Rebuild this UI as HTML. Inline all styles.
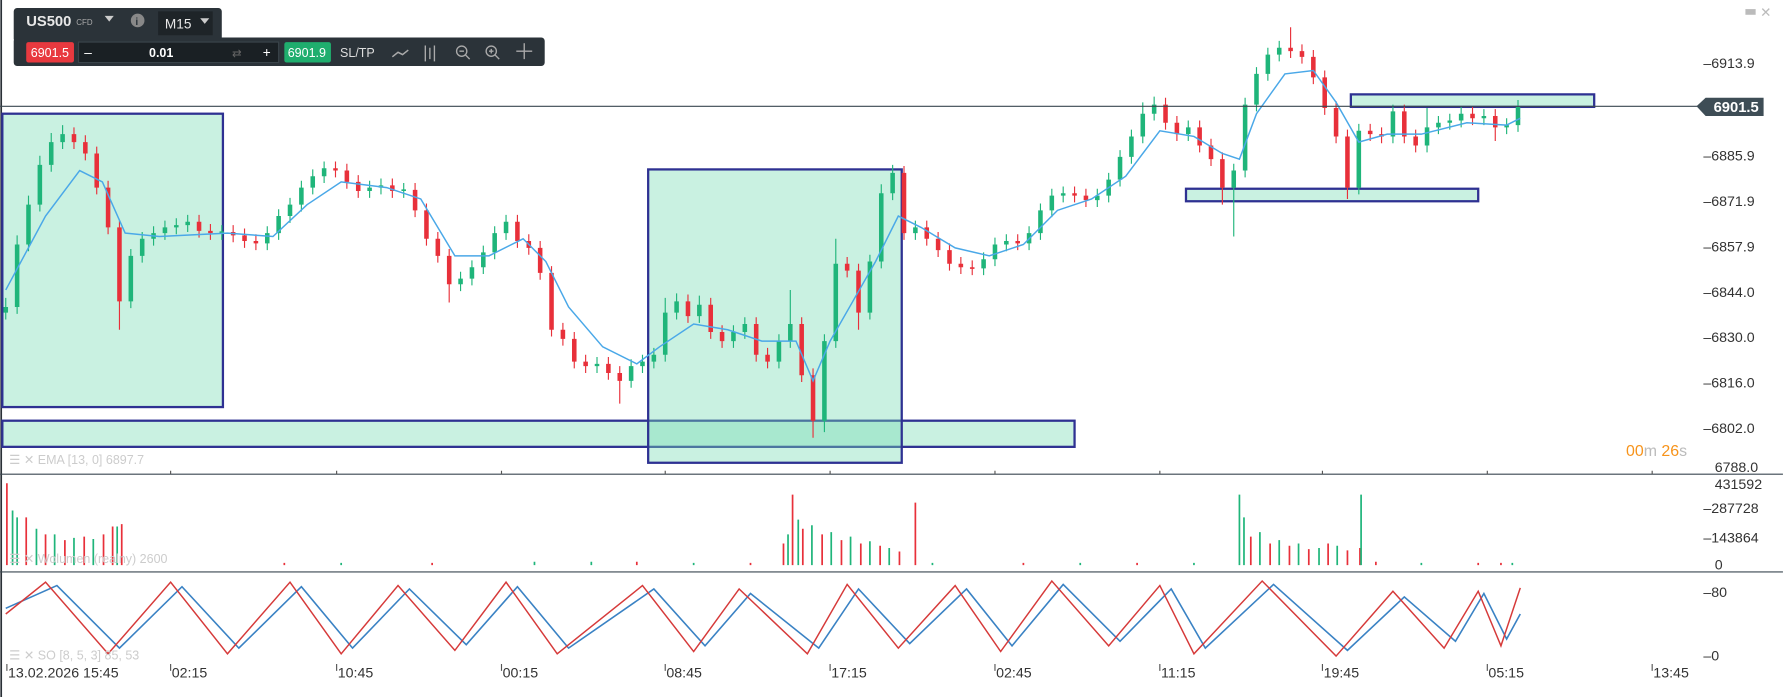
<!DOCTYPE html>
<html><head><meta charset="utf-8"><style>
html,body{margin:0;padding:0;background:#fff;overflow:hidden}
svg{display:block}
text{font-family:"Liberation Sans",sans-serif}
</style></head><body>
<svg width="1783" height="697" viewBox="0 0 1568 613" xmlns="http://www.w3.org/2000/svg">
<rect width="1568" height="613" fill="#fff"/>
<line x1="1" y1="0" x2="1" y2="613" stroke="#2a3036" stroke-width="1.5"/>
<g fill="rgba(120,220,180,0.4)" stroke="#2e3192" stroke-width="2">
<rect x="2" y="100" width="194" height="258"/>
<rect x="2" y="370" width="943" height="23"/>
<rect x="570" y="149" width="223" height="258"/>
<rect x="1043" y="166" width="257" height="11"/>
<rect x="1188" y="83" width="214" height="11"/>
</g>
<!-- wicks -->
<path stroke="#1fb57a" stroke-width="1" fill="none" d="M5,262V281M15,207V276M25,172V221M35,137V186M45,117V151M55,110V131M115,219V271M125,204V231M135,199V216M145,194V211M155,192V206M165,189V204M195,198V211M235,199V220M245,184V211M255,174V196M265,159V186M275,149V171M285,142V161M325,159V174M335,157V171M355,161V174M405,239V256M415,229V251M425,216V241M435,199V228M445,189V211M525,314V328M555,316V341M565,312V328M575,306V324M585,262V318M595,258V281M615,260V284M645,286V306M655,279V298M685,294V324M695,255V306M725,294V380M735,210V306M765,224V281M775,162V236M785,145V176M805,194V211M865,222V242M875,209V234M885,206V221M905,199V220M915,179V211M925,166V191M935,164V178M965,166V182M975,152V178M985,132V164M995,114V144M1005,90V126M1015,85V106M1045,106V124M1085,144V208M1095,86V156M1105,59V98M1115,42V71M1125,36V54M1195,109V171M1225,92V126M1255,95V134M1265,102V118M1275,100V114M1285,94V112M1305,96V110M1325,104V118M1335,88V116"/>
<path stroke="#e8303a" stroke-width="1" fill="none" d="M65,112V131M75,119V141M85,129V171M95,159V206M105,194V290M175,189V209M185,197V211M205,198V213M215,201V218M225,206V220M295,142V156M305,144V166M315,154V174M345,157V174M365,161V191M375,179V216M385,204V231M395,219V266M455,189V218M465,206V224M475,212V246M485,234V296M495,284V304M505,292V324M515,312V328M535,314V334M545,322V355M605,259V284M625,262V298M635,286V306M665,279V318M675,306V324M705,279V336M715,324V385M745,226V244M755,232V290M795,146V211M815,194V216M825,204V226M835,214V238M845,226V241M855,229V242M895,206V220M945,164V178M955,166V182M1025,86V114M1035,102V124M1055,106V134M1065,122V146M1075,134V180M1135,24V51M1145,39V56M1155,44V74M1165,62V101M1175,89V126M1185,114V175M1205,109V124M1215,112V126M1235,92V126M1245,114V134M1295,94V110M1315,96V124"/>
<!-- bodies -->
<path stroke="#1fb57a" stroke-width="4" fill="none" d="M5,275V270M15,270V215M25,215V180M35,180V145M45,145V125M55,125V118M115,265V225M125,225V210M135,210V205M145,205V200M155,200V198M165,198V195M195,205V203.5M235,214V205M245,205V190M255,190V180M265,180V165M275,165V155M285,155V148M325,168V165M335,165V163M355,168V166.5M405,250V245M415,245V235M425,235V222M435,222V205M445,205V195M525,322V320M555,335V322M565,322V318M575,318V312M585,312V275M595,275V265M615,278V268M645,300V292M655,292V285M685,318V300M695,300V285M725,370V300M735,300V232M765,275V230M775,230V170M785,170V152M805,205V200M865,236V228M875,228V215M885,215V212M905,214V205M915,205V185M925,185V172M935,172V170M965,176V172M975,172V158M985,158V138M995,138V120M1005,120V100M1015,100V92M1045,118V112M1085,165V150M1095,150V92M1105,92V65M1115,65V48M1125,48V42M1195,165V115M1225,120V98M1255,128V112M1265,112V108M1275,108V106M1285,106V100M1305,104V102M1325,112V110M1335,110V94"/>
<path stroke="#e8303a" stroke-width="4" fill="none" d="M65,118V125M75,125V135M85,135V165M95,165V200M105,200V265M175,195V203M185,203V205M205,204V207M215,207V212M225,212V214M295,148V150M305,150V160M315,160V168M345,163V168M365,167V185M375,185V210M385,210V225M395,225V250M455,195V212M465,212V218M475,218V240M485,240V290M495,290V298M505,298V318M515,318V322M535,320V328M545,328V335M605,265V278M625,268V292M635,292V300M665,285V312M675,312V318M705,285V330M715,330V370M745,232V238M755,238V275M795,152V205M815,200V210M825,210V220M835,220V232M845,232V235M855,235V236.5M895,212V214M945,170V172M955,172V176M1025,92V108M1035,108V118M1055,112V128M1065,128V140M1075,140V165M1135,42V45M1145,45V50M1155,50V68M1165,68V95M1175,95V120M1185,120V165M1205,115V118M1215,118V120M1235,98V120M1245,120V128M1295,100V104M1315,102V112"/>
<!-- EMA -->
<polyline fill="none" stroke="#4aa8e8" stroke-width="1.3" points="5,255 40,190 70,150 90,160 110,205 140,208 200,205 240,208 270,180 300,160 340,165 370,175 400,225 430,225 460,210 480,230 500,270 530,305 560,320 580,305 610,285 640,290 670,300 700,300 715,335 730,300 750,265 770,230 790,190 810,200 840,218 870,225 900,215 930,185 960,175 990,155 1020,115 1050,120 1075,135 1090,140 1105,100 1130,65 1155,62 1175,90 1195,125 1220,118 1250,118 1290,108 1325,110 1337,104"/>
<!-- volume -->
<path stroke="#e8303a" stroke-width="1.5" fill="none" d="M6,497V425M23,497V455M40,497V470M57,497V475M74,497V472M91,497V470M99,497V463M107,497V461M689,497V478M697,497V435M706,497V465M723,497V470M740,497V475M757,497V478M774,497V480M791,497V485M805,497V442M1100,497V472M1117,497V478M1134,497V480M1151,497V483M1168,497V478M1185,497V484M1196,497V482M1210,497V494M380,497V495M560,497V494M900,497V495M250,497V495M660,497V495M1000,497V495M1300,497V495M1320,497V495"/>
<path stroke="#1fb57a" stroke-width="1.5" fill="none" d="M11,497V449M15,497V455M32,497V465M48,497V470M65,497V473M82,497V474M103,497V463M693,497V470M702,497V457M714,497V462M731,497V468M748,497V472M765,497V476M782,497V482M1090,497V435M1094,497V455M1108,497V468M1125,497V475M1142,497V478M1160,497V482M1176,497V480M1197,497V435M300,497V495M470,497V494M520,497V494M610,497V495M820,497V495M950,497V495M1050,497V495M1250,497V495M1330,497V495"/>
<!-- stoch -->
<polyline fill="none" stroke="#3a82c4" stroke-width="1.4" points="5,535 50,515 105,570 160,516 210,570 265,516 310,570 360,518 410,567 455,516 500,570 575,518 620,568 660,522 720,570 755,518 800,566 850,518 890,568 935,514 985,564 1030,518 1060,570 1120,514 1185,572 1235,525 1280,564 1305,522 1325,562 1337,540"/>
<polyline fill="none" stroke="#d63a3a" stroke-width="1.3" points="5,540 40,512 95,575 150,512 200,575 255,512 300,575 350,515 400,572 445,512 490,575 565,515 610,573 650,518 710,575 745,514 790,570 840,515 880,573 925,511 975,568 1020,515 1050,575 1110,511 1175,577 1225,520 1270,570 1300,520 1320,568 1337,517"/>
<!-- dividers -->
<line x1="0" y1="417" x2="1568" y2="417" stroke="#3a4750" stroke-width="1"/>
<line x1="0" y1="503" x2="1568" y2="503" stroke="#3a4750" stroke-width="1"/>
<line x1="0" y1="93.5" x2="1500" y2="93.5" stroke="#3a4750" stroke-width="1"/>
<polygon points="1492,93.5 1500,86 1551,86 1551,102 1500,102" fill="#3e4d56"/>
<text x="1507" y="98.5" font-size="13" fill="#fff" font-weight="bold">6901.5</text>
<g font-size="12.5" fill="#333">
<text x="1498" y="60">–6913.9</text>
<text x="1498" y="141">–6885.9</text>
<text x="1498" y="181">–6871.9</text>
<text x="1498" y="221">–6857.9</text>
<text x="1498" y="261">–6844.0</text>
<text x="1498" y="301">–6830.0</text>
<text x="1498" y="341">–6816.0</text>
<text x="1498" y="381">–6802.0</text>
<text x="1508" y="415">6788.0</text>
<text x="1508" y="430">431592</text>
<text x="1498" y="451">–287728</text>
<text x="1498" y="477">–143864</text>
<text x="1508" y="501">0</text>
<text x="1498" y="525">–80</text>
<text x="1498" y="581">–0</text>
</g>
<text x="1430" y="401" font-size="14"><tspan fill="#f7931a">00</tspan><tspan fill="#bbb">m </tspan><tspan fill="#f7931a">26</tspan><tspan fill="#bbb">s</tspan></text>
<rect x="1535" y="8" width="9" height="5" fill="#bbb"/><text x="1548" y="15" font-size="12" fill="#bbb">✕</text>
<g stroke="#555" stroke-width="1" fill="none" d="">
<path d="M6,584V590M150,584V590M296,584V590M441,584V590M585,584V590M730,584V590M875,584V590M1020,584V590M1163,584V590M1308,584V590M1453,584V590M150,414V417M296,414V417M441,414V417M585,414V417M730,414V417M875,414V417M1020,414V417M1163,414V417M1308,414V417M1453,414V417"/>
</g>
<g font-size="12.5" fill="#333">
<text x="7" y="596">13.02.2026 15:45</text>
<text x="151" y="596">02:15</text>
<text x="297" y="596">10:45</text>
<text x="442" y="596">00:15</text>
<text x="586" y="596">08:45</text>
<text x="731" y="596">17:15</text>
<text x="876" y="596">02:45</text>
<text x="1021" y="596">11:15</text>
<text x="1164" y="596">19:45</text>
<text x="1309" y="596">05:15</text>
<text x="1454" y="596">13:45</text>
</g>
<g font-size="11" fill="#ccc">
<text x="8" y="408">☰ ✕ EMA [13, 0] 6897.7</text>
<text x="8" y="495">☰ ✕ Wolumen (realny) 2600</text>
<text x="8" y="580">☰ ✕ SO [8, 5, 3] 85, 53</text>
</g>
<!-- toolbar -->
<rect x="12" y="7" width="183" height="30" rx="3" fill="#2b3339"/>
<rect x="12" y="33" width="467" height="25" rx="3" fill="#2b3339"/>
<text x="23" y="23" font-size="13" font-weight="bold" fill="#e8e8e8">US500</text>
<text x="67" y="22" font-size="7" fill="#aaa">CFD</text>
<polygon points="92,14 100,14 96,19" fill="#ccc"/>
<circle cx="121" cy="18" r="6" fill="#888"/><text x="119" y="22" font-size="9" fill="#2b3339" font-weight="bold">i</text>
<rect x="139" y="10" width="48" height="21" fill="#1e2428"/>
<text x="145" y="25" font-size="12" fill="#e8e8e8">M15</text>
<polygon points="176,16 184,16 180,21" fill="#ccc"/>
<rect x="23" y="37" width="42" height="18" rx="2" fill="#e8393f"/>
<text x="27" y="50" font-size="11" fill="#fff">6901.5</text>
<rect x="69" y="37" width="176" height="18" fill="#1a2024" stroke="#3a444a"/>
<text x="74" y="50" font-size="12" fill="#fff">–</text>
<text x="131" y="50" font-size="11" fill="#fff" font-weight="bold">0.01</text>
<text x="204" y="50" font-size="10" fill="#666">⇄</text>
<text x="231" y="50" font-size="12" fill="#fff">+</text>
<rect x="250" y="37" width="41" height="18" rx="2" fill="#1fae6e"/>
<text x="253" y="50" font-size="11" fill="#fff">6901.9</text>
<text x="299" y="50" font-size="11" fill="#ddd">SL/TP</text>
<polyline points="345,50 350,46 354,48 359,44" stroke="#aaa" fill="none" stroke-width="1.3"/>
<g stroke="#aaa" fill="none" stroke-width="1.2"><line x1="374" y1="40" x2="374" y2="54"/><line x1="378" y1="42" x2="378" y2="52"/><line x1="382" y1="40" x2="382" y2="54"/>
<circle cx="406" cy="45" r="4.5"/><line x1="409" y1="48" x2="413" y2="52"/><line x1="404" y1="45" x2="408" y2="45"/>
<circle cx="432" cy="45" r="4.5"/><line x1="435" y1="48" x2="439" y2="52"/><line x1="430" y1="45" x2="434" y2="45"/><line x1="432" y1="43" x2="432" y2="47"/>
<line x1="454" y1="45" x2="468" y2="45"/><line x1="461" y1="38" x2="461" y2="52"/></g>
</svg>
</body></html>
